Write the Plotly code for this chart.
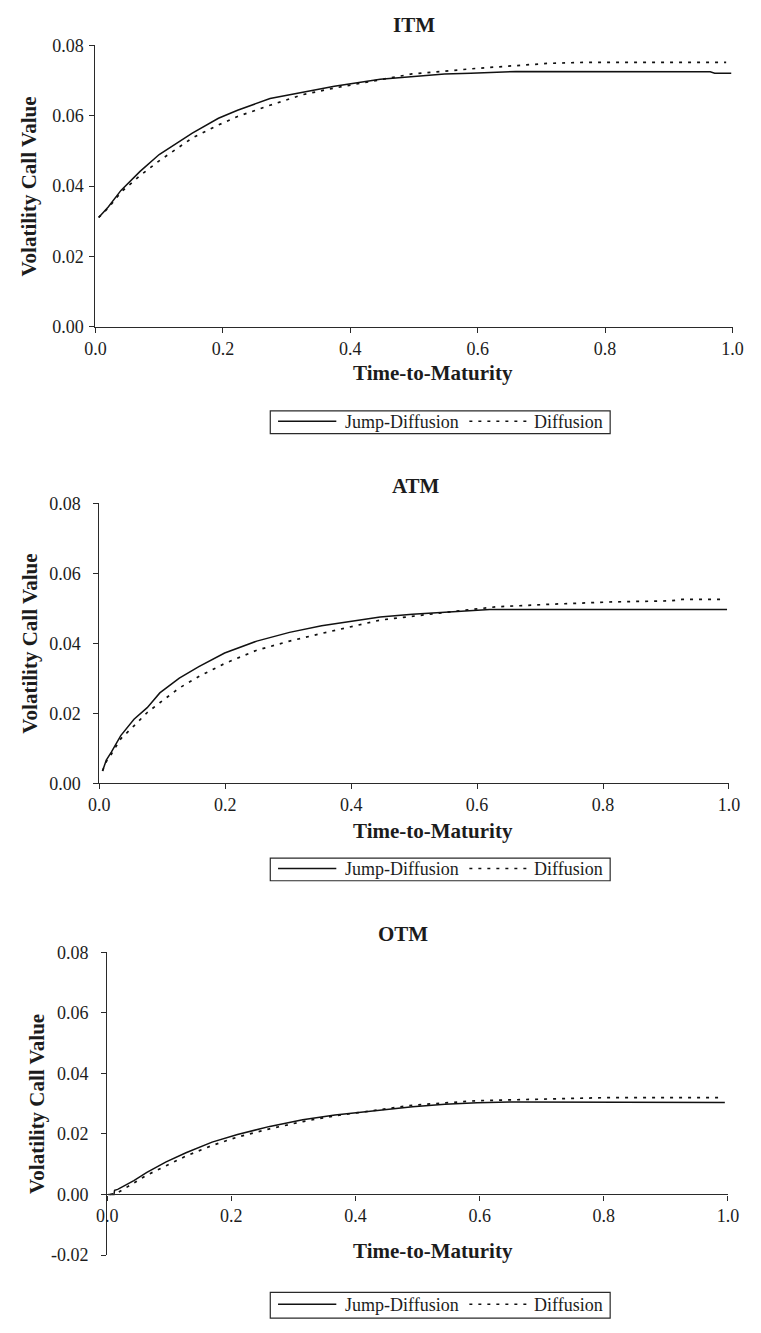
import plotly.graph_objects as go

W, H = 761, 1333

# ---- data -------------------------------------------------------------
panel_titles = ["ITM", "ATM", "OTM"]
series_names = ["Jump-Diffusion", "Diffusion"]

x_ticks = [0.0, 0.2, 0.4, 0.6, 0.8, 1.0]
x_tick_labels = ["0.0", "0.2", "0.4", "0.6", "0.8", "1.0"]
y_ticks = [0.0, 0.02, 0.04, 0.06, 0.08]
y_tick_labels = ["0.00", "0.02", "0.04", "0.06", "0.08"]
otm_y_ticks = [-0.02, 0.0, 0.02, 0.04, 0.06, 0.08]
otm_y_tick_labels = ["-0.02", "0.00", "0.02", "0.04", "0.06", "0.08"]

itm_jump_t = [0.005, 0.02, 0.04, 0.07, 0.10, 0.121, 0.152, 0.193, 0.223, 0.274,
              0.325, 0.375, 0.447, 0.508, 0.548, 0.589, 0.66, 0.965, 0.972, 0.998]
itm_jump_v = [0.0311, 0.0341, 0.0388, 0.0442, 0.0490, 0.0514, 0.0551, 0.0593, 0.0616, 0.0649,
              0.0667, 0.0684, 0.0704, 0.0714, 0.0719, 0.0721, 0.0726, 0.0725, 0.0721, 0.0721]
itm_diff_t = [0.005, 0.02, 0.04, 0.07, 0.10, 0.152, 0.193, 0.223, 0.274, 0.325,
              0.375, 0.447, 0.497, 0.599, 0.71, 0.77, 0.99]
itm_diff_v = [0.0311, 0.0338, 0.0383, 0.0430, 0.0472, 0.0537, 0.0574, 0.0598, 0.0630, 0.0660,
              0.0679, 0.0702, 0.0719, 0.0735, 0.0749, 0.0752, 0.0752]

atm_jump_t = [0.005, 0.011, 0.019, 0.034, 0.055, 0.076, 0.096, 0.127, 0.158, 0.199,
              0.25, 0.302, 0.353, 0.405, 0.446, 0.497, 0.559, 0.62, 0.997]
atm_jump_v = [0.0035, 0.0066, 0.0089, 0.0136, 0.0183, 0.0216, 0.0258, 0.0300, 0.0333, 0.0372,
              0.0406, 0.0431, 0.0450, 0.0464, 0.0475, 0.0483, 0.0490, 0.0496, 0.0496]
atm_diff_t = [0.005, 0.011, 0.019, 0.034, 0.055, 0.076, 0.096, 0.127, 0.158, 0.199,
              0.25, 0.302, 0.353, 0.405, 0.446, 0.549, 0.631, 0.713, 0.815, 0.908, 0.925, 0.99]
atm_diff_v = [0.0035, 0.0062, 0.0083, 0.0127, 0.0164, 0.0202, 0.0230, 0.0272, 0.0305, 0.0342,
              0.0380, 0.0406, 0.0428, 0.0450, 0.0466, 0.0488, 0.0504, 0.0511, 0.0518, 0.0521, 0.0525, 0.0525]

otm_jump_t = [0.002, 0.011, 0.012, 0.017, 0.043, 0.064, 0.095, 0.127, 0.169, 0.21,
              0.262, 0.315, 0.367, 0.44, 0.492, 0.544, 0.596, 0.659, 0.995]
otm_jump_v = [0.0, 0.0, 0.0014, 0.0017, 0.0046, 0.0073, 0.0108, 0.0138, 0.0173, 0.0198,
              0.0225, 0.0247, 0.0263, 0.0280, 0.0290, 0.0298, 0.0303, 0.0306, 0.0304]
otm_diff_t = [0.005, 0.017, 0.043, 0.064, 0.095, 0.127, 0.169, 0.21, 0.262, 0.315,
              0.367, 0.44, 0.492, 0.596, 0.70, 0.804, 0.99]
otm_diff_v = [0.0, 0.0006, 0.0038, 0.0064, 0.0095, 0.0127, 0.0162, 0.0190, 0.0217, 0.0241,
              0.0260, 0.0279, 0.0295, 0.0310, 0.0314, 0.0320, 0.0320]

curves = [
    (itm_jump_t, itm_jump_v, itm_diff_t, itm_diff_v),
    (atm_jump_t, atm_jump_v, atm_diff_t, atm_diff_v),
    (otm_jump_t, otm_jump_v, otm_diff_t, otm_diff_v),
]

# ---- page geometry (pixels) -------------------------------------------
def px(x):
    return x / W


def py(y):
    return 1 - y / H


frames = [
    dict(x0=87, x1=743, top=36, bot=321.7, yr=[0, 0.08], ticks=y_ticks, labels=y_tick_labels,
         zero=None, title_x=415, title_y=15, ytitle_x=19, xlab_y=369,
         leg_top=407, leg_bot=430, standoff=2),
    dict(x0=91, x1=739.3, top=500.7, bot=785, yr=[0, 0.08], ticks=y_ticks, labels=y_tick_labels,
         zero=None, title_x=417, title_y=483, ytitle_x=20, xlab_y=833,
         leg_top=861, leg_bot=884, standoff=9),
    dict(x0=99, x1=738.3, top=956.7, bot=1264, yr=[-0.02, 0.08], ticks=otm_y_ticks,
         labels=otm_y_tick_labels, zero=1202.5, title_x=404, title_y=938, ytitle_x=26,
         xlab_y=1260, leg_top=1302, leg_bot=1328, standoff=9),
]

FONT = "Liberation Serif"
INK = "#1c1c1c"
AXIS = "#2a2a2a"
DOTS = "3px,6px"

fig = go.Figure()
annotations = []
shapes = []

for i, (title, fr, (jt, jv, dt, dv)) in enumerate(zip(panel_titles, frames, curves)):
    n = "" if i == 0 else str(i + 1)
    xa, ya = "x" + n, "y" + n

    fig.add_trace(go.Scatter(x=jt, y=jv, mode="lines", name=series_names[0],
                             line=dict(color="#111111", width=1.5),
                             xaxis=xa, yaxis=ya, showlegend=False))
    fig.add_trace(go.Scatter(x=dt, y=dv, mode="lines", name=series_names[1],
                             line=dict(color="#111111", width=1.7, dash=DOTS),
                             xaxis=xa, yaxis=ya, showlegend=False))

    xaxis = dict(domain=[px(fr["x0"]), px(fr["x1"])], range=[0, 1],
                 tickvals=x_ticks, ticktext=x_tick_labels,
                 showline=True, linecolor=AXIS, linewidth=1.2,
                 ticks="outside", ticklen=5, tickcolor=AXIS, tickwidth=1.2,
                 showgrid=False, zeroline=False,
                 tickfont=dict(family=FONT, size=18, color=INK))
    if fr["zero"] is None:
        xaxis["anchor"] = ya
    else:
        xaxis["anchor"] = "free"
        xaxis["position"] = py(fr["zero"])

    yaxis = dict(domain=[py(fr["bot"]), py(fr["top"])], range=fr["yr"],
                 tickvals=fr["ticks"], ticktext=fr["labels"], anchor=xa,
                 showline=True, linecolor=AXIS, linewidth=1.2,
                 ticks="outside", ticklen=5, tickcolor=AXIS, tickwidth=1.2,
                 ticklabelstandoff=fr["standoff"],
                 showgrid=False, zeroline=False,
                 tickfont=dict(family=FONT, size=18, color=INK))

    fig.update_layout(**{"xaxis" + n: xaxis, "yaxis" + n: yaxis})

    bold = dict(family=FONT, size=21, color=INK)
    annotations.append(dict(text="<b>%s</b>" % title, x=px(fr["title_x"]), y=py(fr["title_y"]),
                            xref="paper", yref="paper", xanchor="center", yanchor="middle",
                            showarrow=False, font=bold))
    annotations.append(dict(text="<b>Time-to-Maturity</b>", x=px(435), y=py(fr["xlab_y"]),
                            xref="paper", yref="paper", xanchor="center", yanchor="middle",
                            showarrow=False, font=bold))
    annotations.append(dict(text="<b>Volatility Call Value</b>", textangle=-90,
                            x=px(fr["ytitle_x"]), y=py((fr["top"] + fr["bot"]) / 2),
                            xref="paper", yref="paper", xanchor="center", yanchor="middle",
                            showarrow=False, font=bold))

    # boxed key below each panel
    t, b = fr["leg_top"], fr["leg_bot"]
    mid = (t + b) / 2
    shapes.append(dict(type="rect", xref="paper", yref="paper",
                       x0=px(267), x1=px(617), y0=py(b), y1=py(t),
                       line=dict(color=AXIS, width=1.2), fillcolor="white"))
    shapes.append(dict(type="line", xref="paper", yref="paper",
                       x0=px(275), x1=px(335), y0=py(mid - 1), y1=py(mid - 1),
                       line=dict(color="#111111", width=1.5)))
    shapes.append(dict(type="line", xref="paper", yref="paper",
                       x0=px(472), x1=px(533), y0=py(mid - 1), y1=py(mid - 1),
                       line=dict(color="#111111", width=1.5, dash=DOTS)))
    leg_font = dict(family=FONT, size=18, color=INK)
    annotations.append(dict(text=series_names[0], x=px(342), y=py(mid), xref="paper", yref="paper",
                            xanchor="left", yanchor="middle", showarrow=False, font=leg_font))
    annotations.append(dict(text=series_names[1], x=px(537), y=py(mid), xref="paper", yref="paper",
                            xanchor="left", yanchor="middle", showarrow=False, font=leg_font))

fig.update_layout(width=W, height=H, autosize=False,
                  margin=dict(l=0, r=0, t=0, b=0),
                  paper_bgcolor="white", plot_bgcolor="white",
                  showlegend=False,
                  annotations=annotations, shapes=shapes)

fig.write_html("out.html")
